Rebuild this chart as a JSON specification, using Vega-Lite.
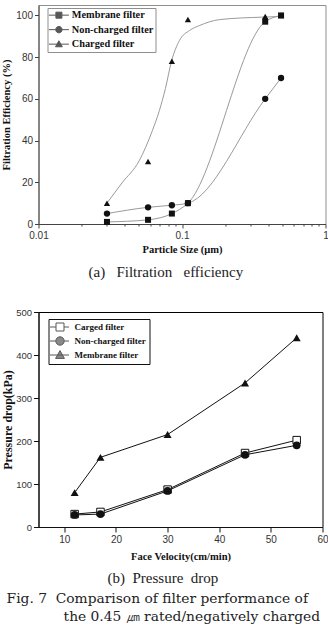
{
  "$schema": "https://vega.github.io/schema/vega-lite/v6.json",
  "background": "white",
  "padding": {"top": 4, "left": 0.5, "right": 0, "bottom": 0},
  "datasets": {
    "efficiency": [
      {"filter": "Membrane filter", "size": 0.03, "eff": 1},
      {"filter": "Membrane filter", "size": 0.058, "eff": 2},
      {"filter": "Membrane filter", "size": 0.085, "eff": 5},
      {"filter": "Membrane filter", "size": 0.11, "eff": 10},
      {"filter": "Membrane filter", "size": 0.38, "eff": 97},
      {"filter": "Membrane filter", "size": 0.49, "eff": 100},
      {"filter": "Non-charged filter", "size": 0.03, "eff": 5},
      {"filter": "Non-charged filter", "size": 0.058, "eff": 8},
      {"filter": "Non-charged filter", "size": 0.085, "eff": 9},
      {"filter": "Non-charged filter", "size": 0.11, "eff": 10},
      {"filter": "Non-charged filter", "size": 0.38, "eff": 60},
      {"filter": "Non-charged filter", "size": 0.49, "eff": 70},
      {"filter": "Charged filter", "size": 0.03, "eff": 10},
      {"filter": "Charged filter", "size": 0.058, "eff": 30},
      {"filter": "Charged filter", "size": 0.085, "eff": 78},
      {"filter": "Charged filter", "size": 0.11, "eff": 98},
      {"filter": "Charged filter", "size": 0.38, "eff": 99.5},
      {"filter": "Charged filter", "size": 0.49, "eff": 100}
    ],
    "chargedFit": [
      {"size": 0.03, "eff": 10},
      {"size": 0.0382, "eff": 19.7},
      {"size": 0.0503, "eff": 30.3},
      {"size": 0.0621, "eff": 44.7},
      {"size": 0.0695, "eff": 54.3},
      {"size": 0.0766, "eff": 64.9},
      {"size": 0.0844, "eff": 77.9},
      {"size": 0.096, "eff": 88},
      {"size": 0.113, "eff": 92.8},
      {"size": 0.133, "eff": 95.2},
      {"size": 0.183, "eff": 98},
      {"size": 0.367, "eff": 99.2},
      {"size": 0.49, "eff": 99.5}
    ],
    "pressure": [
      {"filter": "Carged filter", "velocity": 12, "drop": 30},
      {"filter": "Carged filter", "velocity": 17, "drop": 35},
      {"filter": "Carged filter", "velocity": 30, "drop": 87},
      {"filter": "Carged filter", "velocity": 45, "drop": 172},
      {"filter": "Carged filter", "velocity": 55, "drop": 202},
      {"filter": "Non-charged filter", "velocity": 12, "drop": 28},
      {"filter": "Non-charged filter", "velocity": 17, "drop": 30},
      {"filter": "Non-charged filter", "velocity": 30, "drop": 84},
      {"filter": "Non-charged filter", "velocity": 45, "drop": 168},
      {"filter": "Non-charged filter", "velocity": 55, "drop": 190},
      {"filter": "Membrane filter", "velocity": 12, "drop": 80},
      {"filter": "Membrane filter", "velocity": 17, "drop": 162},
      {"filter": "Membrane filter", "velocity": 30, "drop": 215},
      {"filter": "Membrane filter", "velocity": 45, "drop": 335},
      {"filter": "Membrane filter", "velocity": 55, "drop": 440}
    ]
  },
  "config": {
    "axis": {
      "grid": false,
      "labelFont": "Liberation Sans",
      "labelFontSize": 10,
      "labelColor": "#333",
      "titleFont": "Liberation Serif",
      "titleFontWeight": "bold",
      "titleFontSize": 10.5,
      "titleColor": "#111",
      "labelOverlap": false,
      "labelBound": false,
      "labelFlush": false
    },
    "title": {"font": "Liberation Serif", "fontWeight": "normal", "color": "#222"}
  },
  "columns": 1,
  "align": "none",
  "spacing": 26,
  "resolve": {
    "scale": {"shape": "independent", "fill": "independent"},
    "legend": {"shape": "independent", "fill": "independent"}
  },
  "title": {
    "text": [
      "Fig.\u00a07\u00a0\u00a0Comparison of filter performance of",
      "\u200b\u00a0\u00a0\u00a0\u00a0\u00a0\u00a0\u00a0\u00a0\u00a0\u00a0\u00a0\u00a0\u00a0the 0.45 \u339b rated/negatively charged"
    ],
    "orient": "bottom",
    "anchor": "start",
    "frame": "bounds",
    "dx": 6,
    "font": "DejaVu Serif",
    "fontSize": 13.8,
    "lineHeight": 18,
    "offset": 6
  },
  "concat": [
    {
      "width": 287,
      "height": 219,
      "view": {"stroke": "#8f8f8f"},
      "title": {
        "text": "(a)\u00a0\u00a0\u00a0Filtration\u00a0\u00a0\u00a0efficiency",
        "orient": "bottom",
        "anchor": "start",
        "frame": "group",
        "dx": 50,
        "fontSize": 15,
        "offset": 10
      },
      "layer": [
        {
          "data": {"name": "efficiency"},
          "transform": [{"filter": "datum.filter != 'Charged filter'"}],
          "mark": {"type": "line", "color": "#9a9a9a", "strokeWidth": 1, "interpolate": "monotone"},
          "encoding": {
            "x": {
              "field": "size", "type": "quantitative",
              "scale": {"type": "log", "domain": [0.01, 1], "nice": false},
              "axis": {
                "title": "Particle Size (\u03bcm)",
                "values": [0.01, 0.02, 0.03, 0.04, 0.05, 0.06, 0.07, 0.08, 0.09, 0.1, 0.2, 0.3, 0.4, 0.5, 0.6, 0.7, 0.8, 0.9, 1],
                "format": "~g",
                "labelExpr": "datum.value == 0.01 || datum.value == 0.1 || datum.value == 1 ? datum.label : ''",
                "tickSize": {"condition": {"test": "datum.value == 0.01 || datum.value == 0.1 || datum.value == 1", "value": 4}, "value": 2},
                "domainColor": "#444",
                "tickColor": "#444",
                "labelPadding": 2,
                "titlePadding": 4
              }
            },
            "y": {
              "field": "eff", "type": "quantitative",
              "scale": {"domain": [0, 105], "nice": false},
              "axis": {
                "title": "Filtration Efficiency (%)",
                "values": [0, 10, 20, 30, 40, 50, 60, 70, 80, 90, 100],
                "labelExpr": "datum.value % 20 == 0 ? datum.label : ''",
                "tickSize": {"condition": {"test": "datum.value % 20 == 0", "value": 4}, "value": 2},
                "domainColor": "#444",
                "tickColor": "#444",
                "labelPadding": 2,
                "minExtent": 22,
                "maxExtent": 22,
                "titlePadding": 5
              }
            },
            "detail": {"field": "filter"}
          }
        },
        {
          "data": {"name": "chargedFit"},
          "mark": {"type": "line", "color": "#9a9a9a", "strokeWidth": 1, "interpolate": "monotone"},
          "encoding": {
            "x": {"field": "size", "type": "quantitative"},
            "y": {"field": "eff", "type": "quantitative"}
          }
        },
        {
          "data": {"name": "efficiency"},
          "transform": [{"filter": "datum.filter == 'Membrane filter'"}],
          "mark": {"type": "point", "shape": "square", "filled": true, "color": "#111", "size": 36, "opacity": 1},
          "encoding": {
            "x": {"field": "size", "type": "quantitative"},
            "y": {"field": "eff", "type": "quantitative"}
          }
        },
        {
          "data": {"name": "efficiency"},
          "transform": [{"filter": "datum.filter == 'Non-charged filter'"}],
          "mark": {"type": "point", "shape": "circle", "filled": true, "color": "#111", "size": 40, "opacity": 1},
          "encoding": {
            "x": {"field": "size", "type": "quantitative"},
            "y": {"field": "eff", "type": "quantitative"}
          }
        },
        {
          "data": {"name": "efficiency"},
          "transform": [{"filter": "datum.filter == 'Charged filter'"}],
          "mark": {"type": "point", "shape": "triangle-up", "filled": true, "color": "#111", "size": 40, "opacity": 1},
          "encoding": {
            "x": {"field": "size", "type": "quantitative"},
            "y": {"field": "eff", "type": "quantitative"}
          }
        },
        {
          "data": {"name": "efficiency"},
          "transform": [{"filter": "false"}],
          "mark": {"type": "point", "filled": true, "color": "#111", "stroke": "#111", "strokeWidth": 1},
          "encoding": {
            "shape": {
              "field": "filter", "type": "nominal",
              "scale": {
                "domain": ["Membrane filter", "Non-charged filter", "Charged filter"],
                "range": [
                  "M-1.4375,0H0.3125M1.8125,0H3.5625M0.3125,-0.75H1.8125V0.75H0.3125Z",
                  "M-1.4375,0H0.2625M1.8625,0H3.5625M0.2625,0A0.8,0.8 0 1,0 1.8625,0A0.8,0.8 0 1,0 0.2625,0Z",
                  "M-1.4375,0H3.5625M1.0625,-0.85L1.9125,0.65H0.2125Z"
                ]
              },
              "legend": {
                "orient": "none",
                "legendX": 9,
                "legendY": 3,
                "title": null,
                "padding": 2,
                "rowPadding": 2.5,
                "strokeColor": "#8f8f8f",
                "fillColor": "white",
                "labelFont": "Liberation Serif",
                "labelFontWeight": "bold",
                "labelFontSize": 10.3,
                "labelColor": "#111",
                "labelOffset": 12,
                "labelLimit": 200,
                "symbolSize": 64,
                "symbolStrokeWidth": 1,
                "encode": {
                  "symbols": {
                    "stroke": {"value": "#111"},
                    "strokeWidth": {"value": 1},
                    "fill": {"value": "#111"},
                    "opacity": {"value": 1}
                  }
                }
              }
            }
          }
        }
      ]
    },
    {
      "width": 284,
      "height": 215,
      "view": {"stroke": "#000"},
      "title": {
        "text": "(b)\u00a0\u00a0Pressure\u00a0\u00a0drop",
        "orient": "bottom",
        "anchor": "start",
        "frame": "group",
        "dx": 69,
        "fontSize": 15,
        "offset": 9
      },
      "layer": [
        {
          "data": {"name": "pressure"},
          "mark": {"type": "line", "color": "#111", "strokeWidth": 1},
          "encoding": {
            "x": {
              "field": "velocity", "type": "quantitative",
              "scale": {"domain": [5, 60], "nice": false},
              "axis": {
                "title": "Face Velocity(cm/min)",
                "values": [10, 15, 20, 25, 30, 35, 40, 45, 50, 55, 60],
                "labelExpr": "datum.value % 10 == 0 ? datum.label : ''",
                "tickSize": {"condition": {"test": "datum.value % 10 == 0", "value": 5}, "value": 3},
                "domainColor": "#111",
                "tickColor": "#111",
                "labelPadding": 2,
                "titlePadding": 7
              }
            },
            "y": {
              "field": "drop", "type": "quantitative",
              "scale": {"domain": [0, 500], "nice": false},
              "axis": {
                "title": "Pressure drop(kPa)",
                "titleFontSize": 12,
                "labelFontSize": 9.5,
                "values": [0, 50, 100, 150, 200, 250, 300, 350, 400, 450, 500],
                "labelExpr": "datum.value % 100 == 0 ? datum.label : ''",
                "tickSize": {"condition": {"test": "datum.value % 100 == 0", "value": 5}, "value": 3},
                "domainColor": "#111",
                "tickColor": "#111",
                "labelPadding": 2,
                "minExtent": 22,
                "maxExtent": 22,
                "titlePadding": 2.4
              }
            },
            "detail": {"field": "filter"}
          }
        },
        {
          "data": {"name": "pressure"},
          "transform": [{"filter": "datum.filter == 'Carged filter'"}],
          "mark": {"type": "point", "shape": "square", "filled": true, "fill": "white", "stroke": "#111", "strokeWidth": 1, "size": 56, "opacity": 1},
          "encoding": {
            "x": {"field": "velocity", "type": "quantitative"},
            "y": {"field": "drop", "type": "quantitative"}
          }
        },
        {
          "data": {"name": "pressure"},
          "transform": [{"filter": "datum.filter == 'Non-charged filter'"}],
          "mark": {"type": "point", "shape": "circle", "filled": true, "color": "#111", "size": 60, "opacity": 1},
          "encoding": {
            "x": {"field": "velocity", "type": "quantitative"},
            "y": {"field": "drop", "type": "quantitative"}
          }
        },
        {
          "data": {"name": "pressure"},
          "transform": [{"filter": "datum.filter == 'Membrane filter'"}],
          "mark": {"type": "point", "shape": "triangle-up", "filled": true, "color": "#111", "size": 64, "opacity": 1},
          "encoding": {
            "x": {"field": "velocity", "type": "quantitative"},
            "y": {"field": "drop", "type": "quantitative"}
          }
        },
        {
          "data": {"name": "pressure"},
          "transform": [{"filter": "false"}],
          "mark": {"type": "point", "filled": true, "stroke": "#111", "strokeWidth": 1},
          "encoding": {
            "shape": {
              "field": "filter", "type": "nominal",
              "scale": {
                "domain": ["Carged filter", "Non-charged filter", "Membrane filter"],
                "range": [
                  "M-1.625,0H-0.125M1.875,0H3.125M-0.125,-1H1.875V1H-0.125Z",
                  "M-1.625,0H-0.175M1.925,0H3.125M-0.175,0A1.05,1.05 0 1,0 1.925,0A1.05,1.05 0 1,0 -0.175,0Z",
                  "M-1.625,0H3.125M0.875,-1.1L1.975,0.85H-0.225Z"
                ]
              },
              "legend": {
                "orient": "none",
                "legendX": 10,
                "legendY": 7,
                "title": null,
                "padding": 3.5,
                "rowPadding": 1,
                "strokeColor": "#111",
                "fillColor": "white",
                "labelFont": "Liberation Serif",
                "labelFontWeight": "bold",
                "labelFontSize": 9,
                "labelColor": "#111",
                "labelOffset": 13.5,
                "labelLimit": 200,
                "symbolSize": 64,
                "symbolStrokeWidth": 1,
                "encode": {
                  "symbols": {
                    "stroke": {"value": "#111"},
                    "strokeWidth": {"value": 1},
                    "opacity": {"value": 1}
                  }
                }
              }
            },
            "fill": {
              "field": "filter", "type": "nominal",
              "scale": {
                "domain": ["Carged filter", "Non-charged filter", "Membrane filter"],
                "range": ["white", "#111", "#111"]
              },
              "legend": {
                "orient": "none",
                "legendX": 10,
                "legendY": 7,
                "title": null,
                "padding": 3.5,
                "rowPadding": 1,
                "strokeColor": "#111",
                "fillColor": "white",
                "labelFont": "Liberation Serif",
                "labelFontWeight": "bold",
                "labelFontSize": 9,
                "labelColor": "#111",
                "labelOffset": 13.5,
                "labelLimit": 200,
                "symbolSize": 64,
                "symbolStrokeWidth": 1,
                "encode": {
                  "symbols": {
                    "stroke": {"value": "#111"},
                    "strokeWidth": {"value": 1},
                    "opacity": {"value": 1}
                  }
                }
              }
            }
          }
        }
      ]
    }
  ]
}
